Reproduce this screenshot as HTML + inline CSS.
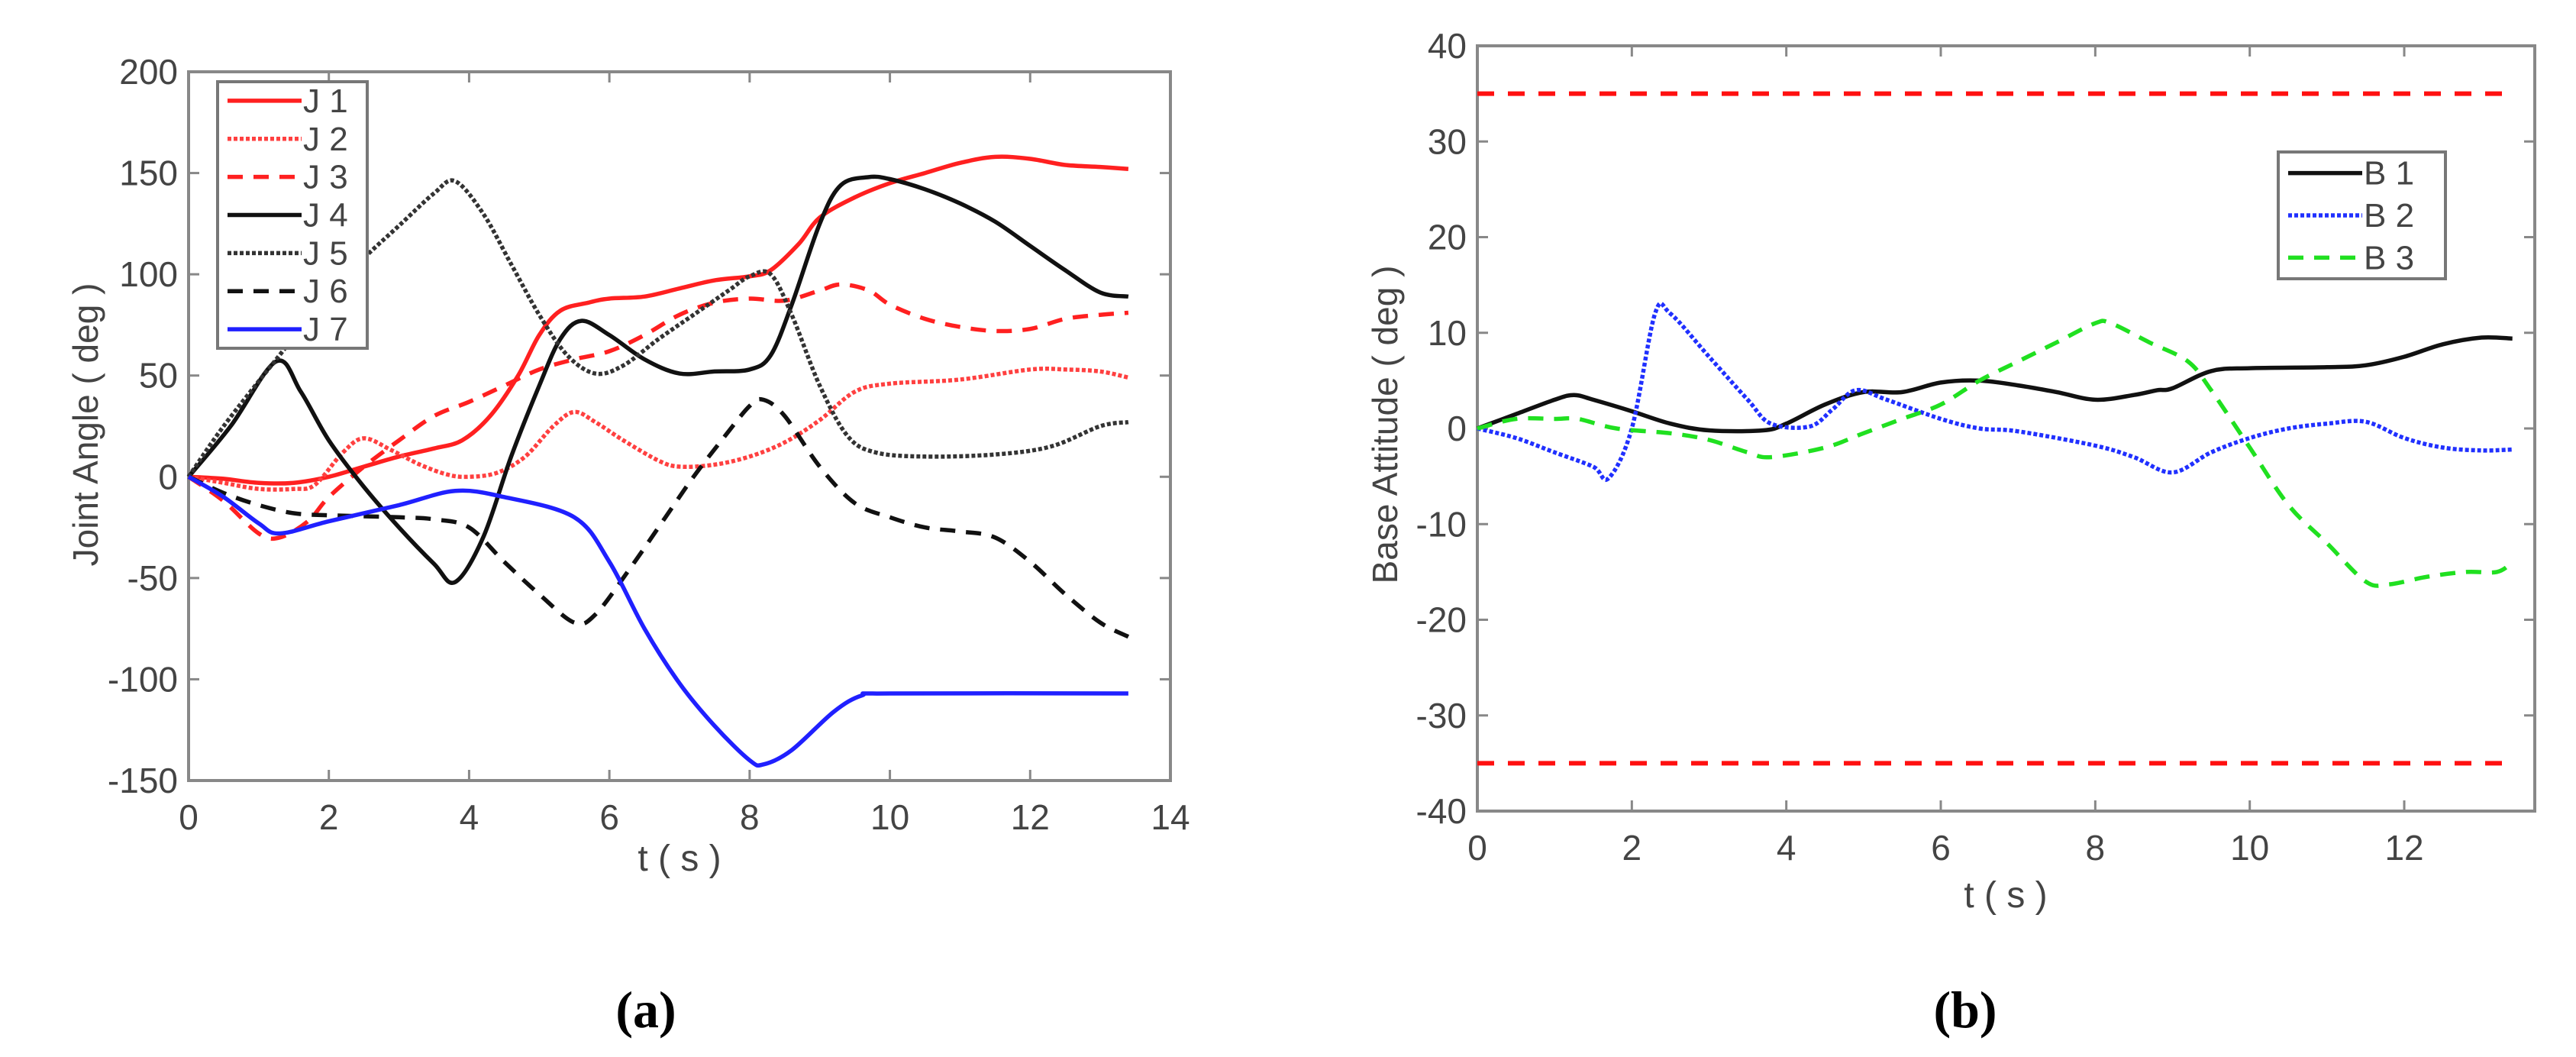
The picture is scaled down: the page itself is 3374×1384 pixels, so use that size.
<!DOCTYPE html>
<html><head><meta charset="utf-8"><style>
html,body{margin:0;padding:0;background:#fff;}
svg{display:block;font-family:"Liberation Sans",sans-serif;}
</style></head><body>
<svg id="svg" width="3374" height="1384" viewBox="0 0 3374 1384"></svg>
<script>
// ---- Chart (a) data ----
const aXTicks=[0,2,4,6,8,10,12,14];
const aYTicks=[200,150,100,50,0,-50,-100,-150];
const j1=[[0,0],[0.5,-1],[1,-3],[1.5,-3],[2,0],[2.5,5],[3,10],[3.5,14],[3.9,18],[4.3,30],[4.7,50],[5,70],[5.3,82],[5.7,86],[6,88],[6.5,89],[7,93],[7.5,97],[8,99],[8.3,102],[8.7,115],[9,128],[9.5,138],[10,145],[10.5,150],[11,155],[11.5,158],[12,157],[12.5,154],[13,153],[13.4,152]];
const j2=[[0,0],[0.5,-3],[1,-6],[1.5,-6],[1.8,-4],[2.2,12],[2.5,19],[2.9,13],[3.3,6],[3.7,1],[4,0],[4.4,2],[4.8,10],[5.2,25],[5.5,32],[5.8,27],[6.2,18],[6.7,8],[7,5],[7.5,6],[8,10],[8.5,17],[9,28],[9.5,42],[10,46],[11,48],[12,53],[12.5,53],[13,52],[13.4,49]];
const j3=[[0,0],[0.5,-12],[1,-28],[1.3,-30],[1.7,-22],[2,-10],[2.5,5],[3,18],[3.5,30],[4,37],[4.5,45],[5,53],[5.5,58],[6,62],[6.5,70],[7,80],[7.5,86],[8,88],[8.5,87],[9,92],[9.3,95],[9.7,92],[10,85],[10.5,78],[11,74],[11.5,72],[12,73],[12.5,78],[13,80],[13.4,81]];
const j4=[[0,0],[0.6,25],[1.25,57],[1.6,42],[2,18],[2.5,-5],[3,-25],[3.5,-43],[3.8,-52],[4.2,-30],[4.6,10],[5,45],[5.3,68],[5.6,77],[6,70],[6.5,58],[7,51],[7.5,52],[8,53],[8.3,60],[8.6,85],[9,125],[9.3,144],[9.7,148],[10,147],[10.5,142],[11,135],[11.5,126],[12,114],[12.5,102],[13,91],[13.4,89]];
const j5=[[0,0],[0.5,25],[1.25,58],[2,90],[2.5,108],[3,124],[3.5,140],[3.8,146],[4.2,130],[4.6,105],[5,80],[5.4,60],[5.8,51],[6.2,55],[6.7,68],[7.2,80],[7.7,92],[8,99],[8.3,100],[8.6,80],[9,45],[9.4,20],[9.8,12],[10.5,10],[11.5,11],[12.3,15],[13,25],[13.4,27]];
const j6=[[0,0],[0.5,-8],[1,-14],[1.5,-18],[2,-19],[3,-20],[3.5,-21],[4,-25],[4.5,-42],[5,-58],[5.5,-72],[5.8,-68],[6.3,-45],[6.8,-20],[7.2,0],[7.6,18],[8,35],[8.2,38],[8.5,30],[9,5],[9.5,-13],[10,-20],[10.5,-25],[11,-27],[11.5,-30],[12,-42],[12.5,-58],[13,-72],[13.4,-79]];
const j7=[[0,0],[0.5,-10],[1,-23],[1.3,-28],[2,-22],[3,-14],[3.8,-7],[4.5,-10],[5.5,-20],[6,-42],[6.5,-75],[7,-102],[7.5,-123],[8,-140],[8.2,-142],[8.6,-135],[9.2,-116],[9.6,-108],[10,-107],[13.4,-107]];
// ---- Chart (b) data ----
const bXTicks=[0,2,4,6,8,10,12];
const bYTicks=[40,30,20,10,0,-10,-20,-30,-40];
const bLimits=[35,-35];
const b1=[[0,0],[0.5,1.5],[1,3],[1.25,3.5],[1.5,3],[2,1.8],[2.5,0.5],[3,-0.2],[3.7,-0.2],[4,0.5],[4.5,2.5],[5,3.8],[5.5,3.8],[6,4.8],[6.5,5],[7,4.5],[7.5,3.8],[8,3],[8.5,3.5],[8.8,4],[9,4.2],[9.5,6],[10,6.3],[11,6.4],[11.5,6.6],[12,7.5],[12.5,8.8],[13,9.5],[13.4,9.4]];
const b2=[[0,0],[0.5,-1],[1,-2.5],[1.5,-4],[1.7,-5.2],[2,0],[2.3,12],[2.5,12],[3,7.5],[3.5,3],[3.8,0.5],[4.3,0.2],[4.6,2],[4.9,4],[5.3,3],[6,1],[6.5,0],[7,-0.3],[8,-1.8],[8.5,-3],[9,-4.6],[9.5,-2.5],[10,-1],[10.5,0],[11,0.5],[11.5,0.7],[12,-1],[12.5,-2],[13,-2.3],[13.4,-2.2]];
const b3=[[0,0],[0.5,1],[1,1],[1.3,1],[1.8,0],[2.5,-0.5],[3,-1.2],[3.5,-2.5],[3.8,-3],[4.5,-2],[5,-0.5],[5.5,1],[6,2.5],[6.5,5],[7,7],[7.5,9],[8,11],[8.2,11],[8.7,9],[9.2,7],[9.5,4],[10,-2],[10.5,-8],[11,-12],[11.5,-16],[11.8,-16.3],[12.3,-15.5],[12.8,-15],[13.2,-15],[13.4,-14]];

const NS='http://www.w3.org/2000/svg';
const svg=document.getElementById('svg');
function mk(tag,attrs,parent){const e=document.createElementNS(NS,tag);for(const k in attrs)e.setAttribute(k,attrs[k]);(parent||svg).appendChild(e);return e;}

const A={L:247,R:1533,T:94,B:1022,x0:0,x1:14,y0:-150,y1:200};
const Bc={L:1935,R:3320,T:60,B:1062,x0:0,x1:13.69,y0:-40,y1:40};
function sx(c,v){return c.L+(v-c.x0)/(c.x1-c.x0)*(c.R-c.L);}
function sy(c,v){return c.B-(v-c.y0)/(c.y1-c.y0)*(c.B-c.T);}

function axes(c,xt,yt,name){
  const g=mk('g',{});
  
  
  for(const t of xt){const x=sx(c,t);
    mk('line',{x1:x,y1:c.B,x2:x,y2:c.B-14,stroke:'#888','stroke-width':3},g);
    mk('line',{x1:x,y1:c.T,x2:x,y2:c.T+14,stroke:'#888','stroke-width':3},g);
    const tx=mk('text',{x:x,y:c.B+64,'text-anchor':'middle','font-size':46,fill:'#444'},g);tx.textContent=t;
    
    }
  for(const t of yt){const y=sy(c,t);
    mk('line',{x1:c.L,y1:y,x2:c.L+14,y2:y,stroke:'#888','stroke-width':3},g);
    mk('line',{x1:c.R,y1:y,x2:c.R-14,y2:y,stroke:'#888','stroke-width':3},g);
    const tx=mk('text',{x:c.L-14,y:y+16,'text-anchor':'end','font-size':46,fill:'#444'},g);tx.textContent=t;
    
    }
  mk('rect',{x:c.L,y:c.T,width:c.R-c.L,height:c.B-c.T,fill:'none',stroke:'#888','stroke-width':4},g);
}
function smoothPath(P){
  let d='M'+P[0][0].toFixed(1)+','+P[0][1].toFixed(1);
  for(let i=0;i<P.length-1;i++){
    const p0=P[Math.max(0,i-1)],p1=P[i],p2=P[i+1],p3=P[Math.min(P.length-1,i+2)];
    const c1x=p1[0]+(p2[0]-p0[0])/6,c1y=p1[1]+(p2[1]-p0[1])/6;
    const c2x=p2[0]-(p3[0]-p1[0])/6,c2y=p2[1]-(p3[1]-p1[1])/6;
    d+=' C'+c1x.toFixed(1)+','+c1y.toFixed(1)+' '+c2x.toFixed(1)+','+c2y.toFixed(1)+' '+p2[0].toFixed(1)+','+p2[1].toFixed(1);
  }
  return d;
}
function series(c,data,color,dash,name){
  const P=data.map(p=>[sx(c,p[0]),sy(c,p[1])]);
  const e=mk('path',{d:smoothPath(P),fill:'none',stroke:color,'stroke-width':5.5,'stroke-linejoin':'round','stroke-dasharray':dash||'none'});
  
  
}
function legend(x,y,w,h,items,name){
  const g=mk('g',{});
  
  
  mk('rect',{x:x,y:y,width:w,height:h,fill:'#fff',stroke:'#777','stroke-width':4},g);
  const step=h/items.length;
  items.forEach((it,i)=>{const yy=y+step*(i+0.5);
    mk('line',{x1:x+13,y1:yy,x2:x+110,y2:yy,stroke:it[1],'stroke-width':5.5,'stroke-dasharray':it[2]||'none'},g);
    const t=mk('text',{x:x+112,y:yy+15,'font-size':44,fill:'#444'},g);t.textContent=it[0];
    
    });
}

// Chart (a)
axes(A,aXTicks,aYTicks,'chart-a');
series(A,j1,'#ff2020','', 'series-j1');
series(A,j2,'#ff4040','5 3','series-j2');
series(A,j3,'#ff2020','20 14','series-j3');
series(A,j4,'#111','', 'series-j4');
series(A,j5,'#333','5 3','series-j5');
series(A,j6,'#111','20 14','series-j6');
series(A,j7,'#2020ff','', 'series-j7');
legend(285,107,196,349,[['J 1','#ff2020'],['J 2','#ff4040','5 3'],['J 3','#ff2020','20 14'],['J 4','#111'],['J 5','#333','5 3'],['J 6','#111','20 14'],['J 7','#2020ff']],'legend-a');

// Chart (b)
axes(Bc,bXTicks,bYTicks,'chart-b');
for(const v of bLimits){const y=sy(Bc,v);
  const l=mk('line',{x1:Bc.L,y1:y,x2:sx(Bc,13.4),y2:y,stroke:'#ff1010','stroke-width':6,'stroke-dasharray':'22 18'});
  
  }
series(Bc,b1,'#111','', 'series-b1');
series(Bc,b2,'#2030ff','5 3','series-b2');
series(Bc,b3,'#20e020','20 14','series-b3');
legend(2984,199,219,166,[['B 1','#111'],['B 2','#2030ff','5 3'],['B 3','#20e020','20 14']],'legend-b');

// Titles
function txt(x,y,s,attrs,name){const t=mk('text',Object.assign({x:x,y:y},attrs));t.textContent=s;
  
  return t;}
txt(890,1140,'t ( s )',{'text-anchor':'middle','font-size':48,fill:'#444'},'x-axis-title-a');
txt(2627,1188,'t ( s )',{'text-anchor':'middle','font-size':48,fill:'#444'},'x-axis-title-b');
txt(0,0,'Joint Angle ( deg )',{'text-anchor':'middle','font-size':46,fill:'#444',transform:'translate(128,556) rotate(-90)'},'y-axis-title-a');
txt(0,0,'Base Attitude ( deg )',{'text-anchor':'middle','font-size':46,fill:'#444',transform:'translate(1830,556) rotate(-90)'},'y-axis-title-b');
txt(846,1345,'(a)',{'text-anchor':'middle','font-size':68,fill:'#000','font-family':'Liberation Serif, serif','font-weight':'bold'},'panel-label-a');
txt(2574,1345,'(b)',{'text-anchor':'middle','font-size':68,fill:'#000','font-family':'Liberation Serif, serif','font-weight':'bold'},'panel-label-b');
</script>
</body></html>
